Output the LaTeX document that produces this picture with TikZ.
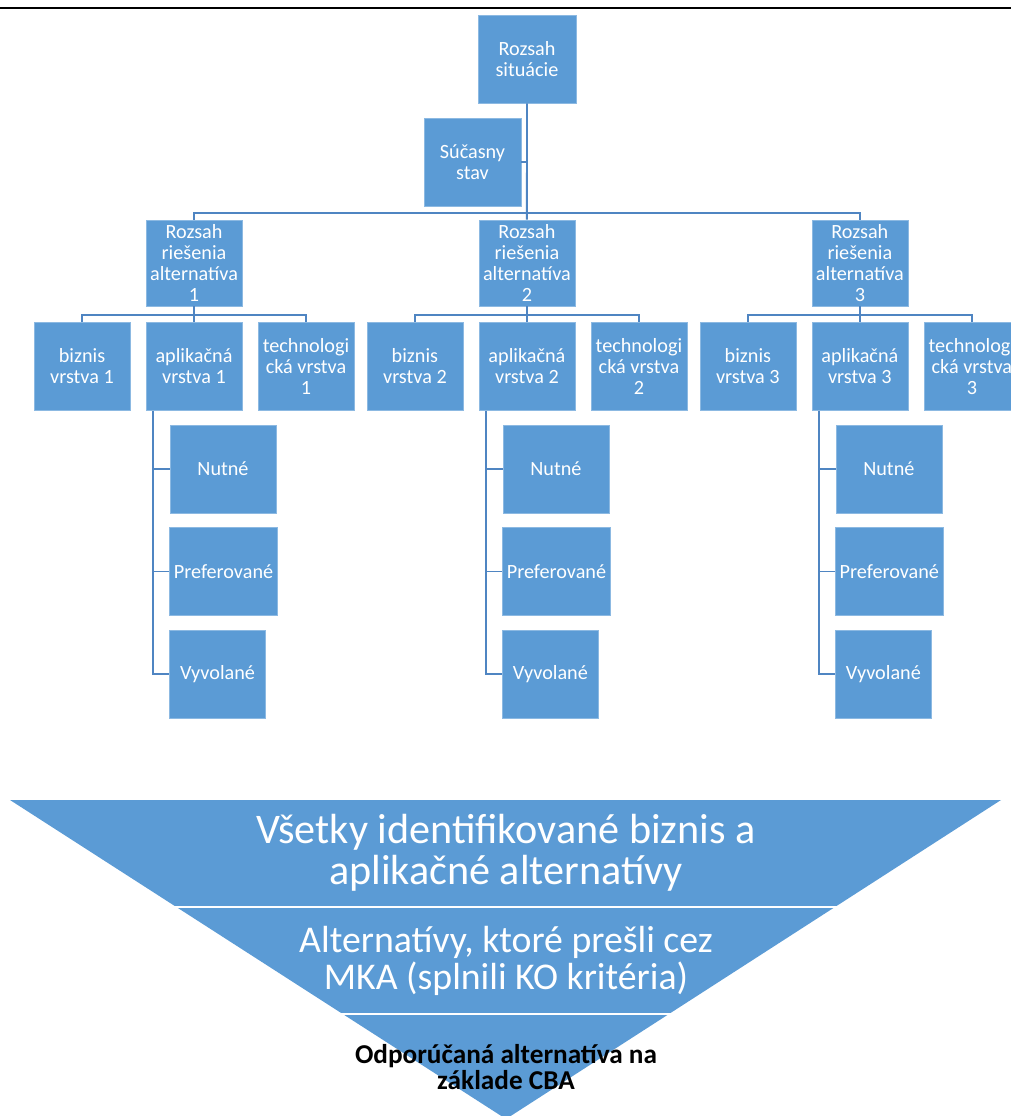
\documentclass[tikz,border=0pt]{standalone}
\usepackage{fontspec}
\setmainfont{Carlito}
\definecolor{boxblue}{HTML}{5B9BD5}
\definecolor{lineblue}{HTML}{4F85C2}
\begin{document}
\begin{tikzpicture}[x=0.02cm, y=-0.02cm,
  box/.style={fill=boxblue, draw=boxblue!70!white, line width=0.4pt, text=white, align=center,
    inner sep=0pt, minimum width=1.92cm, minimum height=1.76cm, font=\fontsize{11.5}{12}\selectfont},
  link/.style={draw=lineblue, line width=1.1pt}]
\useasboundingbox (0,0) rectangle (1011,1116);
% top rule
\draw[line width=0.8pt] (0,8) -- (1011,8);
% situation
\node[box, minimum width=1.96cm] (sit) at (527,59) {Rozsah\\situácie};
\node[box, minimum width=1.94cm] (stav) at (472.5,162) {Súčasny\\stav};
% alternatives
\foreach \i/\dx in {1/0, 2/6.66, 3/13.32} {
\begin{scope}[xshift=\dx cm]
\node[box, minimum height=1.72cm] (alt\i) at (194,263) {Rozsah\\riešenia\\alternatíva\\\i};
\node[box] (biz\i) at (82,366.5) {biznis\\vrstva \i};
\node[box] (apl\i) at (194,366.5) {aplikačná\\vrstva \i};
\node[box] (tech\i) at (306,366.5) {technologi\\cká vrstva\\\i};
\node[box, minimum width=2.12cm] (nut\i) at (223,469) {Nutné};
\node[box, minimum width=2.16cm] (pref\i) at (223.5,571.5) {Preferované};
\node[box] (vyv\i) at (217.5,674) {Vyvolané};
\draw[link] (alt\i.south) -- (apl\i.north);
\draw[link] (biz\i.north) -- ++(0,-7) -| (tech\i.north);
\draw[link] ([xshift=7*0.02cm]apl\i.south west) coordinate (v\i) |- (vyv\i.west);
\draw[link] (v\i |- nut\i.west) -- (nut\i.west);
\draw[link] (v\i |- pref\i.west) -- (pref\i.west);
\end{scope}
}
\draw[link] (sit.south) -- (alt2.north);
\draw[link] (alt1.north) -- ++(0,-7) -| (alt3.north);
\draw[link] (stav.east) -- (stav.east -| sit.south);
% funnel
\fill[boxblue] (10,800) -- (1001,800) -- (506,1119) -- cycle;
\draw[white, line width=1.6pt] (0,907) -- (1011,907);
\draw[white, line width=1.6pt] (0,1014) -- (1011,1014);
\node[font=\fontsize{24}{23.5}\selectfont, text=white, align=center] (all) at (506,853)
  {Všetky identifikované biznis a\\aplikačné alternatívy};
\node[font=\fontsize{21.5}{21}\selectfont, text=white, align=center] (mka) at (506,961)
  {Alternatívy, ktoré prešli cez\\MKA (splnili KO kritéria)};
\node[font=\bfseries\fontsize{15.5}{14.5}\selectfont, align=center] (cba) at (506,1067)
  {Odporúčaná alternatíva na\\základe CBA};
\end{tikzpicture}
\end{document}
